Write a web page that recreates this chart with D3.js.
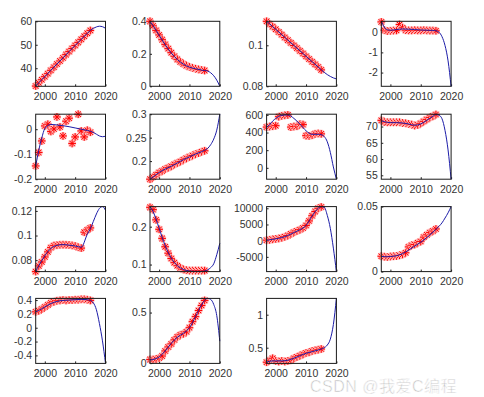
<!DOCTYPE html>
<html>
<head>
<meta charset="utf-8">
<script src="https://cdn.jsdelivr.net/npm/d3@7"></script>
<style>
  body { margin: 0; background: #fff; }
  .tick text { font-family: Arial, "Liberation Sans", sans-serif; font-size: 10.5px; fill: #333; }
  .tick line { stroke: #222; }
</style>
</head>
<body>
<div id="chart"></div>
<script>
// data
var years = [1997, 1998, 1999, 2000, 2001, 2002, 2003, 2004, 2005, 2006, 2007, 2008, 2009, 2010, 2011, 2012, 2013, 2014, 2015];
var fitYears = [1997, 1998, 1999, 2000, 2002, 2004, 2006, 2008, 2010, 2012, 2014, 2015, 2016, 2017, 2018, 2019, 2020];
var xTicks = [2000, 2010, 2020];

var pts1 = [32.4, 33.8, 35.1, 36.4, 37.7, 39.1, 40.4, 41.8, 43.1, 44.4, 45.8, 47.1, 48.4, 49.7, 51.0, 52.3, 53.6, 54.9, 56.1];
var fit1 = [32.4, 33.8, 35.1, 36.4, 39.1, 41.8, 44.4, 47.1, 49.7, 52.3, 54.9, 56.1, 57.0, 57.6, 57.9, 57.7, 57.0];
var pts2 = [0.400, 0.372, 0.344, 0.316, 0.287, 0.258, 0.232, 0.207, 0.185, 0.166, 0.150, 0.137, 0.127, 0.119, 0.113, 0.108, 0.104, 0.100, 0.097];
var fit2 = [0.400, 0.374, 0.345, 0.315, 0.256, 0.205, 0.165, 0.136, 0.118, 0.108, 0.100, 0.097, 0.094, 0.083, 0.065, 0.038, 0.0];
var pts3 = [0.1117, 0.1104, 0.1091, 0.1078, 0.1065, 0.1052, 0.1038, 0.1025, 0.1012, 0.0999, 0.0986, 0.0973, 0.0960, 0.0946, 0.0933, 0.0920, 0.0907, 0.0894, 0.0880];
var fit3 = [0.1117, 0.1104, 0.1091, 0.1078, 0.1052, 0.1025, 0.0999, 0.0973, 0.0946, 0.0920, 0.0894, 0.0881, 0.0868, 0.0857, 0.0848, 0.0841, 0.0836];
var pts4 = [0.51, 0.10, 0.06, 0.07, 0.08, 0.09, 0.38, 0.22, 0.10, 0.09, 0.09, 0.10, 0.09, 0.09, 0.10, 0.09, 0.08, 0.08, 0.07];
var fit4 = [0.54, 0.25, 0.12, 0.10, 0.13, 0.16, 0.15, 0.13, 0.11, 0.10, 0.09, 0.07, 0.0, -0.22, -0.66, -1.42, -2.68];
var pts5 = [-0.147, -0.093, -0.047, 0.013, 0.020, -0.009, 0.001, 0.049, 0.009, -0.027, 0.032, 0.044, -0.057, -0.031, 0.060, -0.007, -0.031, -0.004, -0.012];
var fit5 = [-0.147, -0.085, -0.035, 0.002, 0.019, 0.017, 0.014, 0.010, 0.005, 0.000, -0.005, -0.008, -0.013, -0.020, -0.027, -0.030, -0.028];
var pts6 = [0.1614, 0.166, 0.171, 0.1757, 0.179, 0.183, 0.186, 0.189, 0.193, 0.196, 0.199, 0.203, 0.206, 0.209, 0.212, 0.215, 0.217, 0.220, 0.222];
var fit6 = [0.1614, 0.166, 0.171, 0.1757, 0.183, 0.189, 0.196, 0.203, 0.209, 0.215, 0.220, 0.223, 0.227, 0.235, 0.247, 0.266, 0.300];
var pts7 = [462, 468, 472, 478, 580, 590, 595, 600, 462, 468, 472, 495, 490, 365, 362, 370, 385, 390, 385];
var fit7 = [455, 490, 530, 560, 595, 600, 560, 495, 420, 380, 380, 375, 355, 295, 175, 10, -129];
var pts8 = [71.9, 71.4, 71.3, 71.3, 71.3, 71.3, 71.3, 71.1, 71.0, 70.8, 70.6, 70.3, 70.5, 71.0, 71.6, 72.2, 72.8, 73.2, 73.7];
var fit8 = [71.8, 71.5, 71.3, 71.2, 71.2, 71.1, 70.8, 70.4, 70.8, 71.9, 73.2, 73.7, 73.5, 72.4, 68.8, 62.8, 53.8];
var pts9 = [0.0707, 0.0753, 0.0785, 0.0826, 0.0867, 0.0902, 0.0918, 0.0922, 0.0925, 0.0926, 0.0925, 0.0923, 0.0920, 0.0915, 0.0905, 0.0898, 0.1027, 0.1046, 0.1062];
var fit9 = [0.0707, 0.0755, 0.0795, 0.0835, 0.0895, 0.0920, 0.0926, 0.0922, 0.0915, 0.0905, 0.1010, 0.1055, 0.1115, 0.1175, 0.1220, 0.1235, 0.1205];
var pts10 = [0.251, 0.245, 0.218, 0.193, 0.169, 0.147, 0.130, 0.116, 0.105, 0.097, 0.091, 0.087, 0.085, 0.084, 0.084, 0.084, 0.084, 0.084, 0.084];
var fit10 = [0.253, 0.240, 0.220, 0.196, 0.150, 0.117, 0.097, 0.087, 0.083, 0.082, 0.082, 0.083, 0.086, 0.092, 0.102, 0.126, 0.156];
var pts11 = [150, 250, 400, 550, 700, 900, 1200, 1600, 2100, 2600, 3000, 3400, 3900, 4700, 6100, 7700, 9000, 10000, 10400];
var fit11 = [100, 250, 400, 550, 950, 1600, 2500, 3400, 4700, 7600, 10000, 10500, 10300, 7800, 3800, -2300, -9555];
var pts12 = [0.0118, 0.0115, 0.0113, 0.0116, 0.0118, 0.0120, 0.0125, 0.0132, 0.0145, 0.0190, 0.0203, 0.0208, 0.0222, 0.0232, 0.0265, 0.0283, 0.0300, 0.0312, 0.0328];
var fit12 = [0.0118, 0.0115, 0.0114, 0.0116, 0.0122, 0.0138, 0.0165, 0.0196, 0.0226, 0.0262, 0.0303, 0.0325, 0.0348, 0.0375, 0.0412, 0.0452, 0.0500];
var pts13 = [0.23, 0.245, 0.27, 0.30, 0.33, 0.36, 0.375, 0.39, 0.395, 0.40, 0.395, 0.40, 0.40, 0.405, 0.405, 0.41, 0.41, 0.405, 0.395];
var fit13 = [0.23, 0.25, 0.275, 0.30, 0.35, 0.38, 0.395, 0.40, 0.405, 0.41, 0.405, 0.395, 0.36, 0.26, 0.06, -0.19, -0.516];
var pts14 = [0.035, 0.035, 0.04, 0.05, 0.07, 0.12, 0.16, 0.19, 0.23, 0.26, 0.28, 0.29, 0.31, 0.35, 0.41, 0.46, 0.52, 0.57, 0.62];
var fit14 = [0.03, 0.035, 0.045, 0.06, 0.12, 0.195, 0.255, 0.295, 0.35, 0.46, 0.575, 0.62, 0.64, 0.63, 0.58, 0.47, 0.217];
var pts15 = [0.28, 0.31, 0.34, 0.30, 0.29, 0.30, 0.29, 0.30, 0.31, 0.34, 0.36, 0.38, 0.40, 0.42, 0.43, 0.45, 0.46, 0.47, 0.48];
var fit15 = [0.28, 0.295, 0.30, 0.30, 0.30, 0.31, 0.34, 0.38, 0.415, 0.44, 0.465, 0.48, 0.50, 0.54, 0.63, 0.85, 1.247];

// y limits and tick labels per panel
var yLims = [[32.3, 60], [0, 0.4], [0.08, 0.1117], [-2.68, 0.54], [-0.2, 0.06], [0.1614, 0.3], [-129, 608], [53.8, 73.8],
  [0.0707, 0.1235], [0.0814, 0.253], [-9555, 10520], [0, 0.05], [-0.516, 0.424], [-0.003, 0.64], [0.262, 1.247]];
var yTicks = [[40, 50, 60], [0, 0.2, 0.4], [0.08, 0.1], [-2, -1, 0], [-0.2, -0.1, 0], [0.2, 0.25, 0.3], [0, 200, 400, 600], [55, 60, 65, 70],
  [0.08, 0.1, 0.12], [0.1, 0.2], [-5000, 0, 5000, 10000], [0, 0.05], [-0.4, -0.2, 0, 0.2, 0.4], [0, 0.5], [0.5, 1]];

var allPts = [pts1, pts2, pts3, pts4, pts5, pts6, pts7, pts8, pts9, pts10, pts11, pts12, pts13, pts14, pts15];
var allFit = [fit1, fit2, fit3, fit4, fit5, fit6, fit7, fit8, fit9, fit10, fit11, fit12, fit13, fit14, fit15];

var svgWidth = 484;
var svgHeight = 397;

// subplot grid (MATLAB style 4x4)
var colX = [35.7, 150, 266.6, 381.3];
var rowY = [21.3, 114.2, 206.6, 298.4];
var width = 69.8;
var height = 65;

var svg = d3.select("#chart")
  .append("svg")
  .attr("width", svgWidth)
  .attr("height", svgHeight);

// '*' marker: plus + cross
function star(r) {
  var p = d3.path();
  var q = r * 0.72;
  p.moveTo(-r, 0); p.lineTo(r, 0);
  p.moveTo(0, -r); p.lineTo(0, r);
  p.moveTo(-q, -q); p.lineTo(q, q);
  p.moveTo(-q, q); p.lineTo(q, -q);
  return p.toString();
}

var xScale = d3.scaleLinear().domain([1997, 2020]).range([0, width]);

allPts.forEach(function (pts, i) {
  var g = svg.append("g")
    .attr("transform", `translate(${colX[i % 4]}, ${rowY[Math.floor(i / 4)]})`);

  var yScale = d3.scaleLinear().domain(yLims[i]).range([height, 0]);

  g.append("clipPath").attr("id", "clip" + i)
    .append("rect").attr("x", -5).attr("y", -5).attr("width", width + 10).attr("height", height + 10);

  g.append("g")
    .attr("transform", `translate(0, ${height})`)
    .call(d3.axisBottom(xScale).tickValues(xTicks).tickSize(-2).tickPadding(6).tickFormat(d => String(d)))
    .call(a => a.select(".domain").remove());

  g.append("g")
    .call(d3.axisLeft(yScale).tickValues(yTicks[i]).tickSize(-2).tickPadding(3.5).tickFormat(d => String(d)))
    .call(a => a.select(".domain").remove());

  var plot = g.append("g").attr("clip-path", `url(#clip${i})`);

  // markers with a soft halo like the jpeg
  var marks = plot.selectAll(".pt")
    .data(pts)
    .enter()
    .append("g")
    .attr("transform", (d, j) => `translate(${xScale(years[j])}, ${yScale(d)})`);
  marks.append("path").attr("d", star(4)).attr("stroke", "#ffb4b4").attr("stroke-width", 2.6).attr("fill", "none");
  marks.append("path").attr("d", star(3.8)).attr("stroke", "#ff0000").attr("stroke-width", 1).attr("fill", "none");

  var line = d3.line()
    .x((d, j) => xScale(fitYears[j]))
    .y(d => yScale(d))
    .curve(d3.curveMonotoneX);

  g.append("path")
    .datum(allFit[i])
    .attr("d", line)
    .attr("fill", "none")
    .attr("stroke", "#1c1ca8")
    .attr("stroke-width", 1);

  // box
  g.append("rect")
    .attr("width", width)
    .attr("height", height)
    .attr("fill", "none")
    .attr("stroke", "#1a1a1a")
    .attr("stroke-width", 1);
});

// watermark
svg.append("text")
  .attr("x", 310)
  .attr("y", 392)
  .attr("font-family", "Arial, 'Noto Sans CJK SC', sans-serif")
  .attr("font-size", 16)
  .attr("letter-spacing", 0.5)
  .attr("fill", "#b8b8b8")
  .attr("stroke", "#fff")
  .attr("stroke-width", 0.6)
  .attr("opacity", 0.9)
  .text("CSDN @我爱C编程");
</script>
</body>
</html>
